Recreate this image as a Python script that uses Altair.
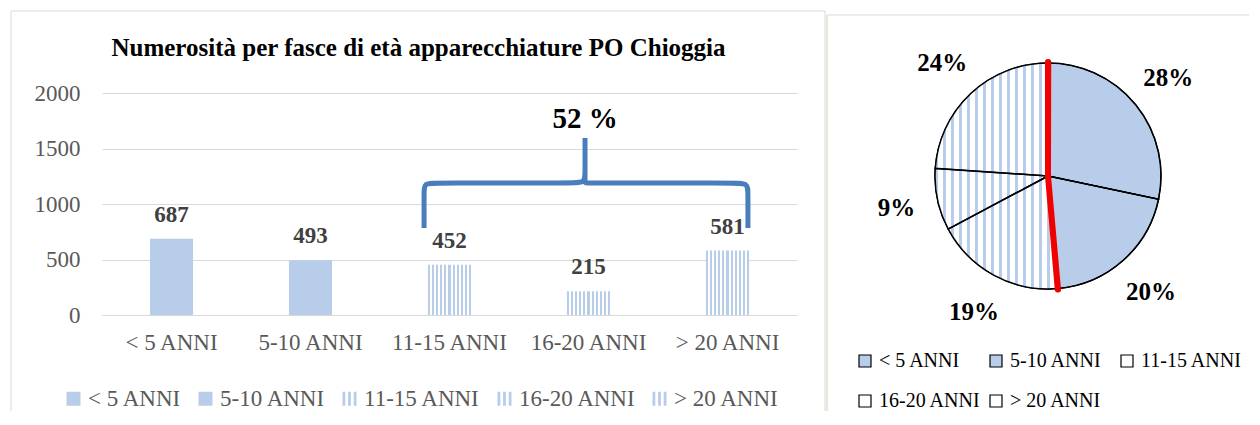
import altair as alt
import pandas as pd

# ---------------- data ----------------
categories = ["< 5 ANNI", "5-10 ANNI", "11-15 ANNI", "16-20 ANNI", "> 20 ANNI"]
counts = [687, 493, 452, 215, 581]
y_ticks = [0, 500, 1000, 1500, 2000]
title_text = "Numerosità per fasce di età apparecchiature PO Chioggia"

# curly brace over the last three classes (x in band units, y in counts)
brace_x = [2.317, 2.317, 2.317, 2.317, 2.40, 3.38, 3.475, 3.475, 3.475, 3.475, 3.475,
           3.475, 3.475, 3.475, 3.57, 4.55, 4.647, 4.647, 4.647, 4.647]
brace_y = [784, 784, 1100, 1189, 1189, 1189, 1189, 1280, 1595, 1595, 1595,
           1280, 1189, 1189, 1189, 1189, 1189, 1100, 784, 784]
brace_label = ["52 %"]
brace_label_x = [3.475]
brace_label_y = [1766]

# ---------------- style ----------------
FONT = "Liberation Serif"
BLUE = "#b8cde9"
GRID = "#d9d9d9"


def stripes(n, duty):
    total = n + duty
    stops = []
    for k in range(n + 1):
        s = k / total
        e = (k + duty) / total
        stops += [{"offset": s, "color": BLUE}, {"offset": e, "color": BLUE}]
        if k < n:
            stops += [{"offset": e, "color": "white"},
                      {"offset": (k + 1) / total, "color": "white"}]
    return {"gradient": "linear", "x1": 0, "y1": 0, "x2": 1, "y2": 0, "stops": stops}


STRIPE_PATH = "M-1,-1H-0.6V1H-1Z M-0.2,-1H0.2V1H-0.2Z M0.6,-1H1V1H0.6Z"

df = pd.DataFrame({"cat": categories, "val": counts, "idx": list(range(len(categories)))})

# ---------------- bar chart ----------------
band = alt.Scale(domain=categories, paddingInner=0.69, paddingOuter=0.345)
yscale = alt.Scale(domain=[0, 2000], nice=False)
y_axis = alt.Axis(values=y_ticks, format="d", title=None, labelFont=FONT, labelFontSize=23,
                  labelColor="#595959", ticks=False, domain=False, gridColor=GRID,
                  labelPadding=22)
x_axis = alt.Axis(title=None, labelFont=FONT, labelFontSize=23, labelColor="#595959",
                  labelAngle=0, ticks=False, domainColor=GRID, labelPadding=16, grid=False)

base = alt.Chart(df).encode(
    x=alt.X("cat:N", sort=categories, scale=band, axis=x_axis),
    y=alt.Y("val:Q", scale=yscale, axis=y_axis),
)

solid = base.mark_bar(color=BLUE).transform_filter("datum.idx < 2")
hatch = base.mark_bar(fill=stripes(10, 0.5)).transform_filter("datum.idx >= 2")
values = base.mark_text(font=FONT, fontSize=23, fontWeight="bold", color="#404040",
                        baseline="alphabetic", dy=-17).encode(text="val:Q")

bar_legend = alt.Legend(orient="none", legendX=-40, legendY=294, direction="horizontal",
                        title=None, labelFont=FONT, labelFontSize=23, labelColor="#595959",
                        symbolSize=196, symbolStrokeWidth=0, symbolOpacity=1,
                        columnPadding=12, labelOffset=3)
legend_pts = base.mark_point(filled=True, opacity=0, size=196).encode(
    color=alt.Color("cat:N", sort=categories,
                    scale=alt.Scale(domain=categories, range=[BLUE] * 5), legend=bar_legend),
    shape=alt.Shape("cat:N", sort=categories,
                    scale=alt.Scale(domain=categories,
                                    range=["square", "square", STRIPE_PATH, STRIPE_PATH, STRIPE_PATH]),
                    legend=bar_legend),
)

bars = alt.layer(solid, hatch, values, legend_pts)

qx = alt.Scale(domain=[0, 5], nice=False, zero=False)
brace_df = pd.DataFrame({"bx": brace_x, "by": brace_y, "o": list(range(len(brace_x)))})
brace = alt.Chart(brace_df).mark_line(color="#4a7ebb", strokeWidth=5, interpolate="basis").encode(
    x=alt.X("bx:Q", scale=qx, axis=None),
    y=alt.Y("by:Q", scale=yscale, axis=y_axis),
    order="o:Q",
)
pct_df = pd.DataFrame({"t": brace_label, "tx": brace_label_x, "ty": brace_label_y})
pct = alt.Chart(pct_df).mark_text(font=FONT, fontSize=29, fontWeight="bold", color="black",
                                  baseline="middle").encode(
    x=alt.X("tx:Q", scale=qx, axis=None),
    y=alt.Y("ty:Q", scale=yscale, axis=y_axis),
    text="t:N",
)

bar_chart = alt.layer(bars, alt.layer(brace, pct)).resolve_scale(x="independent").properties(
    width=695, height=222,
    title=alt.TitleParams(text=title_text, font=FONT, fontSize=25, fontWeight="bold",
                          color="black", anchor="middle", offset=21, dx=-31),
)

# ---------------- pie chart ----------------
pie_base = alt.Chart(df).transform_window(
    cum="sum(val)", sort=[alt.SortField("idx")], frame=[None, 0]
).transform_joinaggregate(total="sum(val)").transform_calculate(
    a0="2*PI*(datum.cum-datum.val)/datum.total",
    a1="2*PI*datum.cum/datum.total",
    mid="PI*(2*datum.cum-datum.val)/datum.total",
    label="format(datum.val/datum.total, '.0%')",
)

R = 113
pie_legend = alt.Legend(orient="none", legendX=8, legendY=258, columns=3, direction="horizontal",
                        gridAlign="all", title=None, labelFont=FONT, labelFontSize=20,
                        labelColor="black", symbolType="square", symbolSize=144,
                        symbolStrokeColor="black", symbolStrokeWidth=1.2, rowPadding=20,
                        columnPadding=5, labelOffset=4)

arcs = pie_base.mark_arc(radius=R, stroke="black", strokeWidth=1.2).encode(
    theta=alt.Theta("a0:Q", scale=None),
    theta2="a1:Q",
    color=alt.Color("cat:N", sort=categories,
                    scale=alt.Scale(domain=categories, range=[BLUE, BLUE, "white", "white", "white"]),
                    legend=pie_legend),
)
hatch_arc = pie_base.transform_filter("datum.idx >= 2").transform_aggregate(
    s="min(a0)", e="max(a1)"
).mark_arc(radius=R, fill=stripes(15, 0.32)).encode(
    theta=alt.Theta("s:Q", scale=None), theta2="e:Q"
)
outline = pie_base.mark_arc(radius=R, filled=False, stroke="black", strokeWidth=1.5).encode(
    theta=alt.Theta("a0:Q", scale=None), theta2="a1:Q"
)
red = pie_base.transform_filter("datum.idx <= 1").transform_calculate(
    b="datum.idx == 0 ? datum.a0 : datum.a1", b2="datum.b + 0.002"
).mark_arc(radius=R + 1, color="#f00000", stroke="#f00000", strokeWidth=6, strokeJoin="round").encode(
    theta=alt.Theta("b:Q", scale=None), theta2="b2:Q"
)
pie_labels = pie_base.mark_text(radius=155, font=FONT, fontSize=25, fontWeight="bold",
                                color="black", baseline="middle").encode(
    theta=alt.Theta("mid:Q", scale=None), text="label:N"
)

one = pd.DataFrame({"a": [0]})
frame_col = GRID
f1 = alt.Chart(one).mark_rule(color=frame_col).encode(x=alt.value(-836), y=alt.value(-82), y2=alt.value(318))
f2 = alt.Chart(one).mark_rule(color=frame_col).encode(x=alt.value(-836), x2=alt.value(-22), y=alt.value(-82))
f3 = alt.Chart(one).mark_rule(color=frame_col).encode(x=alt.value(-22), y=alt.value(-82), y2=alt.value(318))
f4 = alt.Chart(one).mark_rule(color="#e0e0cc", strokeWidth=1.5).encode(x=alt.value(-20), y=alt.value(-78), y2=alt.value(318))
f5 = alt.Chart(one).mark_rule(color=frame_col).encode(x=alt.value(-20), x2=alt.value(402), y=alt.value(-78))

pie_chart = alt.layer(f1, f2, f3, f4, f5, arcs, hatch_arc, outline, red, pie_labels).properties(
    width=402, height=166
)

chart = alt.hconcat(bar_chart, pie_chart, spacing=50, bounds="flush").resolve_scale(
    color="independent", shape="independent"
).resolve_legend(color="independent", shape="independent").properties(
    padding={"left": 2, "top": 2, "right": 0, "bottom": 0}
).configure_view(strokeWidth=0)

chart.save("out.html", embed_options={"renderer": "svg", "actions": False})
